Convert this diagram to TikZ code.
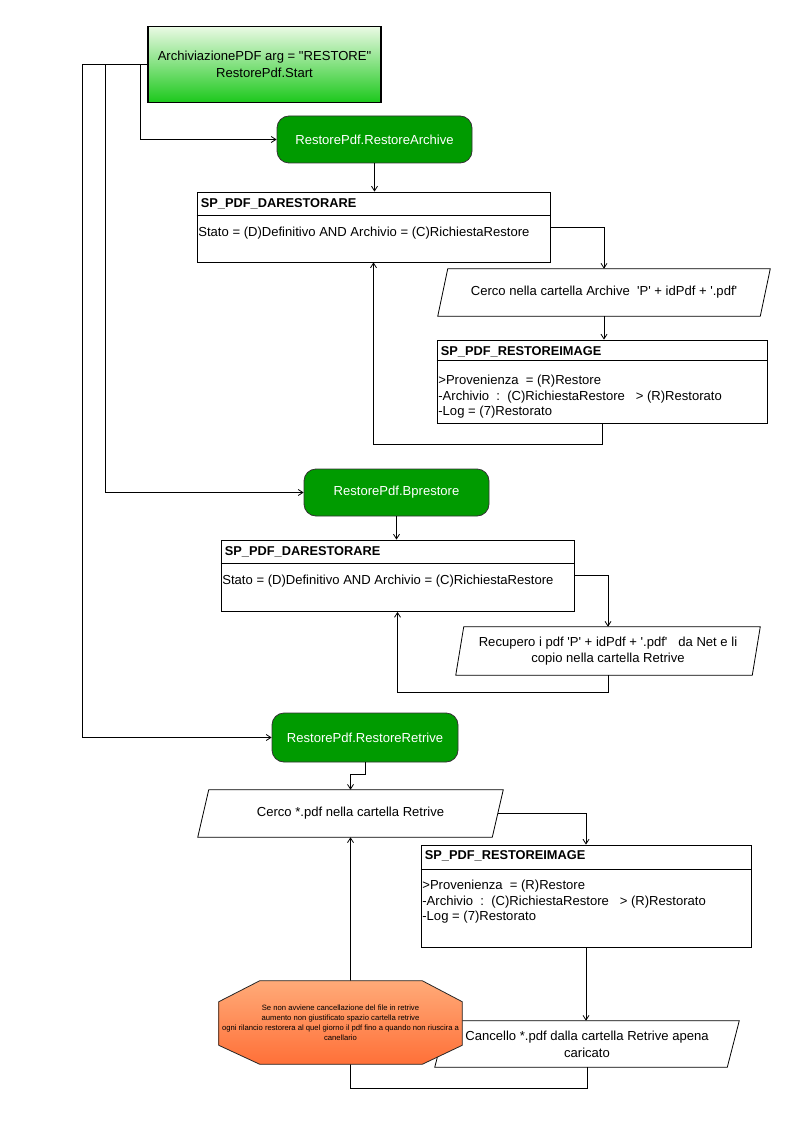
\documentclass[tikz,border=0pt]{standalone}
\usepackage{fontspec}
\setmainfont{Liberation Sans}
\usetikzlibrary{arrows.meta,calc}
\definecolor{gstart}{RGB}{234,250,228}
\definecolor{gend}{RGB}{28,200,28}
\definecolor{gdark}{RGB}{0,155,0}
\definecolor{otop}{RGB}{255,170,120}
\definecolor{obot}{RGB}{255,112,56}
\newcommand\paraoutline[2]{\draw[conn] ($(#1.north west)+(#2,0)$) -- (#1.north east) -- ($(#1.south east)+(-#2,0)$) -- (#1.south west) -- cycle;}
\begin{document}
\begin{tikzpicture}[x=0.75pt,y=-0.75pt,
  every node/.style={font=\fontsize{9.8}{12.5}\selectfont, inner sep=0pt},
  conn/.style={line width=0.6pt, draw=black},
  arr/.style={conn, -{Straight Barb[length=3.5pt,width=4.5pt]}},
  startbox/.style={draw=black, line width=0.8pt, top color=gstart, bottom color=gend, align=center},
  procbox/.style={draw=black!80, line width=0.6pt, fill=gdark, rounded corners=9pt, text=white, align=center},
  tablebox/.style={draw=black, line width=0.6pt},
  paranode/.style={align=center},
  titletext/.style={anchor=base west, font=\fontsize{9.6}{12.5}\selectfont\bfseries},
  bodytext/.style={anchor=base west, align=left, font=\fontsize{9.8}{11.6}\selectfont},
  octtext/.style={align=center, font=\fontsize{5.75}{7.5}\selectfont}
]
\useasboundingbox[fill=white] (0,0) rectangle (794,1123);

% main nodes
\node[startbox, minimum width=233*0.75pt, minimum height=76*0.75pt] (start) at (264.5,64.5) {ArchiviazionePDF arg = \textquotedbl RESTORE\textquotedbl\\RestorePdf.Start};
\node[procbox, minimum width=195*0.75pt, minimum height=47*0.75pt] (arch) at (374.5,139.5) {RestorePdf.RestoreArchive};
\node[tablebox, minimum width=353*0.75pt, minimum height=70*0.75pt] (darA) at (373.5,227) {};
\node[paranode, minimum width=332*0.75pt, minimum height=47*0.75pt] (para1) at (604,292.5) {Cerco nella cartella Archive\ \ \textquotesingle P\textquotesingle\ + idPdf + \textquotesingle.pdf\textquotesingle};
\node[tablebox, minimum width=330*0.75pt, minimum height=83*0.75pt] (rimgA) at (602,381.5) {};
\node[procbox, minimum width=185*0.75pt, minimum height=47*0.75pt] (bpre) at (396.5,492.5) {RestorePdf.Bprestore};
\node[tablebox, minimum width=353*0.75pt, minimum height=71.5*0.75pt] (darB) at (397.5,575.75) {};
\node[paranode, minimum width=304*0.75pt, minimum height=48*0.75pt] (para2) at (608,651) {Recupero i pdf \textquotesingle P\textquotesingle\ + idPdf + \textquotesingle.pdf\textquotesingle\ \ \ da Net e li\\copio nella cartella Retrive};
\node[procbox, minimum width=186*0.75pt, minimum height=49*0.75pt] (retr) at (365,737.5) {RestorePdf.RestoreRetrive};
\node[paranode, minimum width=305*0.75pt, minimum height=47*0.75pt] (para3) at (350.5,813.5) {Cerco *.pdf nella cartella Retrive};
\node[tablebox, minimum width=330*0.75pt, minimum height=102*0.75pt] (rimgB) at (586,896) {};
\node[paranode, minimum width=304*0.75pt, minimum height=46*0.75pt] (para4) at (587,1044) {Cancello *.pdf dalla cartella Retrive apena\\caricato};

% table dividers and texts
\draw[conn] ($(darA.north west)+(0,24)$) -- ($(darA.north east)+(0,24)$);
\node[titletext] (darAt) at ($(darA.north west)+(4,16)$) {SP\_PDF\_DARESTORARE};
\node[bodytext] (darAb) at ($(darA.north west)+(1.5,44.5)$) {Stato = (D)Definitivo AND Archivio = (C)RichiestaRestore};

\draw[conn] ($(rimgA.north west)+(0,21)$) -- ($(rimgA.north east)+(0,21)$);
\node[titletext] (rimgAt) at ($(rimgA.north west)+(4,15.5)$) {SP\_PDF\_RESTOREIMAGE};
\node[bodytext] (rimgAb) at ($(rimgA.north west)+(1.5,76)$) {>Provenienza\ \ = (R)Restore\\-Archivio\ \ :\ \ (C)RichiestaRestore\ \ \ > (R)Restorato\\-Log = (7)Restorato};

\draw[conn] ($(darB.north west)+(0,24)$) -- ($(darB.north east)+(0,24)$);
\node[titletext] (darBt) at ($(darB.north west)+(4,16.3)$) {SP\_PDF\_DARESTORARE};
\node[bodytext] (darBb) at ($(darB.north west)+(1.5,44.5)$) {Stato = (D)Definitivo AND Archivio = (C)RichiestaRestore};

\draw[conn] ($(rimgB.north west)+(0,25)$) -- ($(rimgB.north east)+(0,25)$);
\node[titletext] (rimgBt) at ($(rimgB.north west)+(4,15)$) {SP\_PDF\_RESTOREIMAGE};
\node[bodytext] (rimgBb) at ($(rimgB.north west)+(1.5,76)$) {>Provenienza\ \ = (R)Restore\\-Archivio\ \ :\ \ (C)RichiestaRestore\ \ \ > (R)Restorato\\-Log = (7)Restorato};

% parallelogram outlines
\paraoutline{para1}{10}
\paraoutline{para2}{8}
\paraoutline{para3}{11}
\paraoutline{para4}{12}

% connectors
\coordinate (jA) at (140,64.5);
\coordinate (jB) at (105,64.5);
\coordinate (jC) at (82,64.5);
\draw[conn] (start.west) -- (jC);
\draw[arr] (jA) |- (arch.west);
\draw[arr] (jB) |- (bpre.west);
\draw[arr] (jC) |- (retr.west);

\draw[arr] (arch.south) -- (arch.south |- darA.north);
\draw[arr] (darA.east) -| (para1.north);
\draw[arr] (para1.south) -- (para1.south |- rimgA.north);
\coordinate (lA) at (0,444);
\draw[arr] (rimgA.south) |- (darA.south |- lA) -- (darA.south);

\draw[arr] (bpre.south) -- (bpre.south |- darB.north);
\draw[arr] (darB.east) -| (para2.north);
\coordinate (lB) at (0,692);
\draw[arr] (para2.south) |- (darB.south |- lB) -- (darB.south);

\coordinate (lC) at (0,774);
\draw[arr] (retr.south) -- (retr.south |- lC) -| (para3.north);
\draw[arr] ($(para3.east)+(-5.5,0)$) -| (rimgB.north);
\draw[arr] (rimgB.south) -- (rimgB.south |- para4.north);
\coordinate (lD) at (0,1088);
\draw[arr] (para4.south) |- (para3.south |- lD) -- (para3.south);

% octagon note
\node[minimum width=243*0.75pt, minimum height=83*0.75pt] (oct) at (340.5,1022.5) {};
\path[draw=black!85, line width=0.6pt, top color=otop, bottom color=obot]
  ($(oct.north west)+(41,0)$) -- ($(oct.north east)+(-40,0)$) -- ($(oct.north east)+(0,21)$)
  -- ($(oct.south east)+(0,-19)$) -- ($(oct.south east)+(-40,0)$) -- ($(oct.south west)+(41,0)$)
  -- ($(oct.south west)+(0,-19)$) -- ($(oct.north west)+(0,21)$) -- cycle;
\node[octtext] (octt) at (oct.center) {Se non avviene cancellazione del file in retrive\\aumento non giustificato spazio cartella retrive\\ogni rilancio restorera al quel giorno il pdf fino a quando non riuscira a\\canellario};
\end{tikzpicture}
\end{document}
